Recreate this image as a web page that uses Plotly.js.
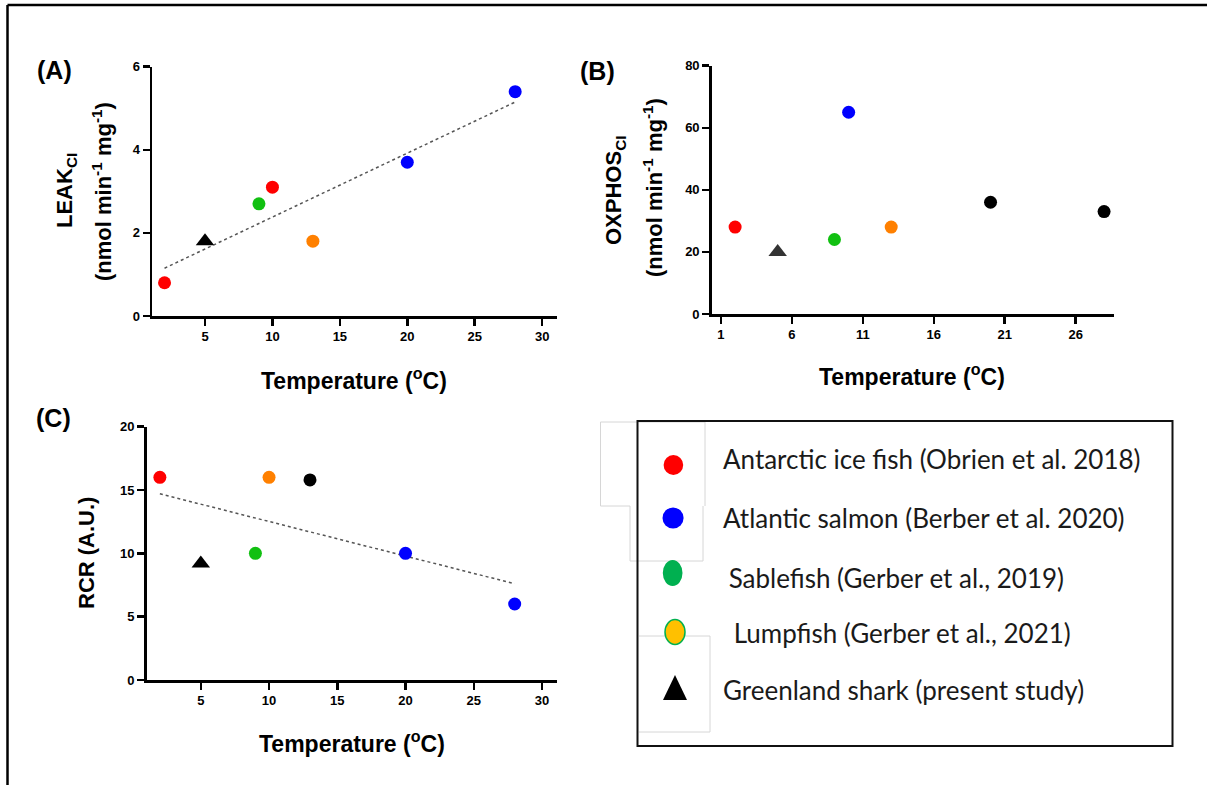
<!DOCTYPE html>
<html>
<head>
<meta charset="utf-8">
<script src="https://cdn.plot.ly/plotly-3.0.1.min.js"></script>
<style>
  html, body { margin: 0; padding: 0; background: #ffffff; }
  #chart { width: 1207px; height: 785px; }
</style>
</head>
<body>
<div id="chart"></div>
<script>
// ---------------- DATA ----------------
// Panel A: LEAK_CI vs temperature
const tempA  = [2, 10, 20, 28, 9, 13, 5];
const leakA  = [0.8, 3.1, 3.7, 5.4, 2.7, 1.8, 1.8];
const groupA = ['ice', 'ice', 'salmon', 'salmon', 'sable', 'lump', 'shark'];
const trendTempA = [2, 28];
const trendLeakA = [1.15, 5.15];

// Panel B: OXPHOS_CI vs temperature
const tempB   = [2, 10, 9, 13, 20, 28, 5];
const oxphosB = [28, 65, 24, 28, 36, 33, 20];
const groupB  = ['ice', 'salmon', 'sable', 'lump', 'other', 'other', 'shark'];

// Panel C: RCR vs temperature
const tempC  = [2, 20, 28, 9, 10, 13, 5];
const rcrC   = [16, 10, 6, 10, 16, 15.8, 9.2];
const groupC = ['ice', 'salmon', 'salmon', 'sable', 'lump', 'other', 'shark'];
const trendTempC = [2, 28];
const trendRcrC  = [14.7, 7.6];

// Tick labels
const ticksXA = [5, 10, 15, 20, 25, 30];
const ticksYA = [0, 2, 4, 6];
const ticksXB = [1, 6, 11, 16, 21, 26];
const ticksYB = [0, 20, 40, 60, 80];
const ticksXC = [5, 10, 15, 20, 25, 30];
const ticksYC = [0, 5, 10, 15, 20];

// Legend labels
const legendLabels = [
  'Antarctic ice fish (Obrien et al. 2018)',
  'Atlantic salmon (Berber et al. 2020)',
  ' Sablefish (Gerber et al., 2019)',
  ' Lumpfish (Gerber et al., 2021)',
  'Greenland shark (present study)'
];

// ---------------- STYLE ----------------
const W = 1207, H = 785;
const px = x => x / W;
const py = y => 1 - y / H;

const groupColor = {
  ice: '#ff0000', salmon: '#0000ff', sable: '#11c011', lump: '#ff8000',
  other: '#000000', shark: '#000000'
};
const FONT = 'Liberation Sans, Arial, sans-serif';

function markerFor(groups, sharkColor) {
  return {
    color: groups.map(g => g === 'shark' ? sharkColor : groupColor[g]),
    symbol: groups.map(g => g === 'shark' ? 'triangle-up' : 'circle'),
    size: groups.map(g => g === 'shark' ? 16 : 13),
    opacity: 1,
    line: { width: 0 }
  };
}

const traces = [
  { x: trendTempA, y: trendLeakA, xaxis: 'x', yaxis: 'y', mode: 'lines',
    line: { color: '#555555', width: 1.5, dash: 'dot' }, hoverinfo: 'skip' },
  { x: tempA, y: leakA, xaxis: 'x', yaxis: 'y', mode: 'markers',
    marker: markerFor(groupA, '#000000') },
  { x: tempB, y: oxphosB, xaxis: 'x2', yaxis: 'y2', mode: 'markers',
    marker: markerFor(groupB, '#333333') },
  { x: trendTempC, y: trendRcrC, xaxis: 'x3', yaxis: 'y3', mode: 'lines',
    line: { color: '#555555', width: 1.5, dash: 'dot' }, hoverinfo: 'skip' },
  { x: tempC, y: rcrC, xaxis: 'x3', yaxis: 'y3', mode: 'markers',
    marker: markerFor(groupC, '#000000') }
];

function axis(domain, range, tickvals, anchor) {
  return {
    domain: domain, range: range, tickvals: tickvals, anchor: anchor,
    showline: true, linecolor: '#000000', linewidth: 2.5,
    ticks: 'outside', ticklen: 7, tickwidth: 2.5, tickcolor: '#000000',
    showgrid: false, zeroline: false, fixedrange: true,
    tickfont: { family: FONT, size: 13, color: '#000000', weight: 'bold' }
  };
}

const boldFont = (size) => ({ family: FONT, size: size, color: '#000000', weight: 'bold' });

function ann(text, x, y, size, angle, xanchor) {
  return {
    text: text, x: px(x), y: py(y), xref: 'paper', yref: 'paper',
    showarrow: false, textangle: angle || 0,
    xanchor: xanchor || 'center', yanchor: 'middle',
    font: boldFont(size)
  };
}

const annotations = [
  ann('(A)', 54, 70, 25),
  ann('(B)', 597, 71, 25),
  ann('(C)', 53, 418, 25),
  ann('LEAK<sub>CI</sub>', 66, 191, 22, -90),
  ann('(nmol min<sup>-1</sup> mg<sup>-1</sup>)', 102, 192, 22, -90),
  ann('OXPHOS<sub>CI</sub>', 615, 190, 22, -90),
  ann('(nmol min<sup>-1</sup> mg<sup>-1</sup>)', 653, 188, 22, -90),
  ann('RCR (A.U.)', 86, 553, 22, -90),
  ann('Temperature (<sup>o</sup>C)', 354, 379, 23),
  ann('Temperature (<sup>o</sup>C)', 912, 375, 23),
  ann('Temperature (<sup>o</sup>C)', 352, 742, 23)
];

const legendTextPos = [[720.5, 459], [721, 518], [720, 578], [724.5, 633], [721, 690]];
legendLabels.forEach((t, i) => {
  annotations.push({
    text: t, x: px(legendTextPos[i][0]), y: py(legendTextPos[i][1]),
    xref: 'paper', yref: 'paper', showarrow: false,
    xanchor: 'left', yanchor: 'middle',
    font: { family: 'Lato, Open Sans, sans-serif', size: 26, color: '#1a1a1a' }
  });
});

function rectLine(x0, y0, x1, y1, color, w) {
  return { type: 'line', xref: 'paper', yref: 'paper',
    x0: px(x0), y0: py(y0), x1: px(x1), y1: py(y1),
    line: { color: color, width: w } };
}
function ellipse(x0, y0, x1, y1, fill, lineColor, lw) {
  return { type: 'circle', xref: 'paper', yref: 'paper',
    x0: px(x0), y0: py(y0), x1: px(x1), y1: py(y1),
    fillcolor: fill, line: { color: lineColor, width: lw } };
}

const faint = '#d6d6d6';
const shapes = [
  // outer figure frame
  rectLine(7.5, 5, 1207, 5, '#000000', 2.5),
  rectLine(7.5, 5, 7.5, 785, '#000000', 2.5),
  // faint leftover frames behind legend
  rectLine(600.5, 422, 705, 422, faint, 1),
  rectLine(600.5, 422, 600.5, 506, faint, 1),
  rectLine(705, 422, 705, 506, faint, 1),
  rectLine(600.5, 506, 630, 506, faint, 1),
  rectLine(630, 506, 630, 561, faint, 1),
  rectLine(703, 506, 703, 561, faint, 1),
  rectLine(630, 561, 703, 561, faint, 1),
  rectLine(639, 636, 710, 636, faint, 1),
  rectLine(710, 636, 710, 732, faint, 1),
  rectLine(639, 732, 710, 732, faint, 1),
  // legend box
  { type: 'rect', xref: 'paper', yref: 'paper',
    x0: px(637.5), y0: py(746), x1: px(1172.5), y1: py(421),
    line: { color: '#111111', width: 2 }, fillcolor: 'rgba(0,0,0,0)' },
  // legend symbols
  ellipse(663.6, 455, 683.2, 475, '#ff0000', '#ff0000', 0),
  ellipse(662.5, 507.5, 683.6, 528.5, '#0000ff', '#0000ff', 0),
  ellipse(662.8, 560, 682.5, 586, '#00b050', '#00b050', 0),
  ellipse(665, 619.5, 685, 644.5, '#ffc000', '#00b050', 1.5),
  { type: 'path', xref: 'paper', yref: 'paper',
    path: 'M ' + px(663) + ',' + py(700) + ' L ' + px(675) + ',' + py(675) +
          ' L ' + px(687) + ',' + py(700) + ' Z',
    fillcolor: '#000000', line: { color: '#000000', width: 0 } }
];

const layout = {
  width: W, height: H,
  margin: { l: 0, r: 0, t: 0, b: 0, pad: 0 },
  paper_bgcolor: '#ffffff', plot_bgcolor: '#ffffff',
  showlegend: false,
  xaxis:  axis([px(152), px(557)], [1.07, 31.1], ticksXA, 'y'),
  yaxis:  axis([py(316), py(66.7)], [0, 6], ticksYA, 'x'),
  xaxis2: axis([px(711.7), px(1114)], [0.35, 28.7], ticksXB, 'y2'),
  yaxis2: axis([py(314), py(65.7)], [0, 80], ticksYB, 'x2'),
  xaxis3: axis([px(146.5), px(557)], [1.02, 31.1], ticksXC, 'y3'),
  yaxis3: axis([py(680), py(426.7)], [0, 20], ticksYC, 'x3'),
  annotations: annotations,
  shapes: shapes
};

Plotly.newPlot('chart', traces, layout, { staticPlot: true, displayModeBar: false });
</script>
</body>
</html>
